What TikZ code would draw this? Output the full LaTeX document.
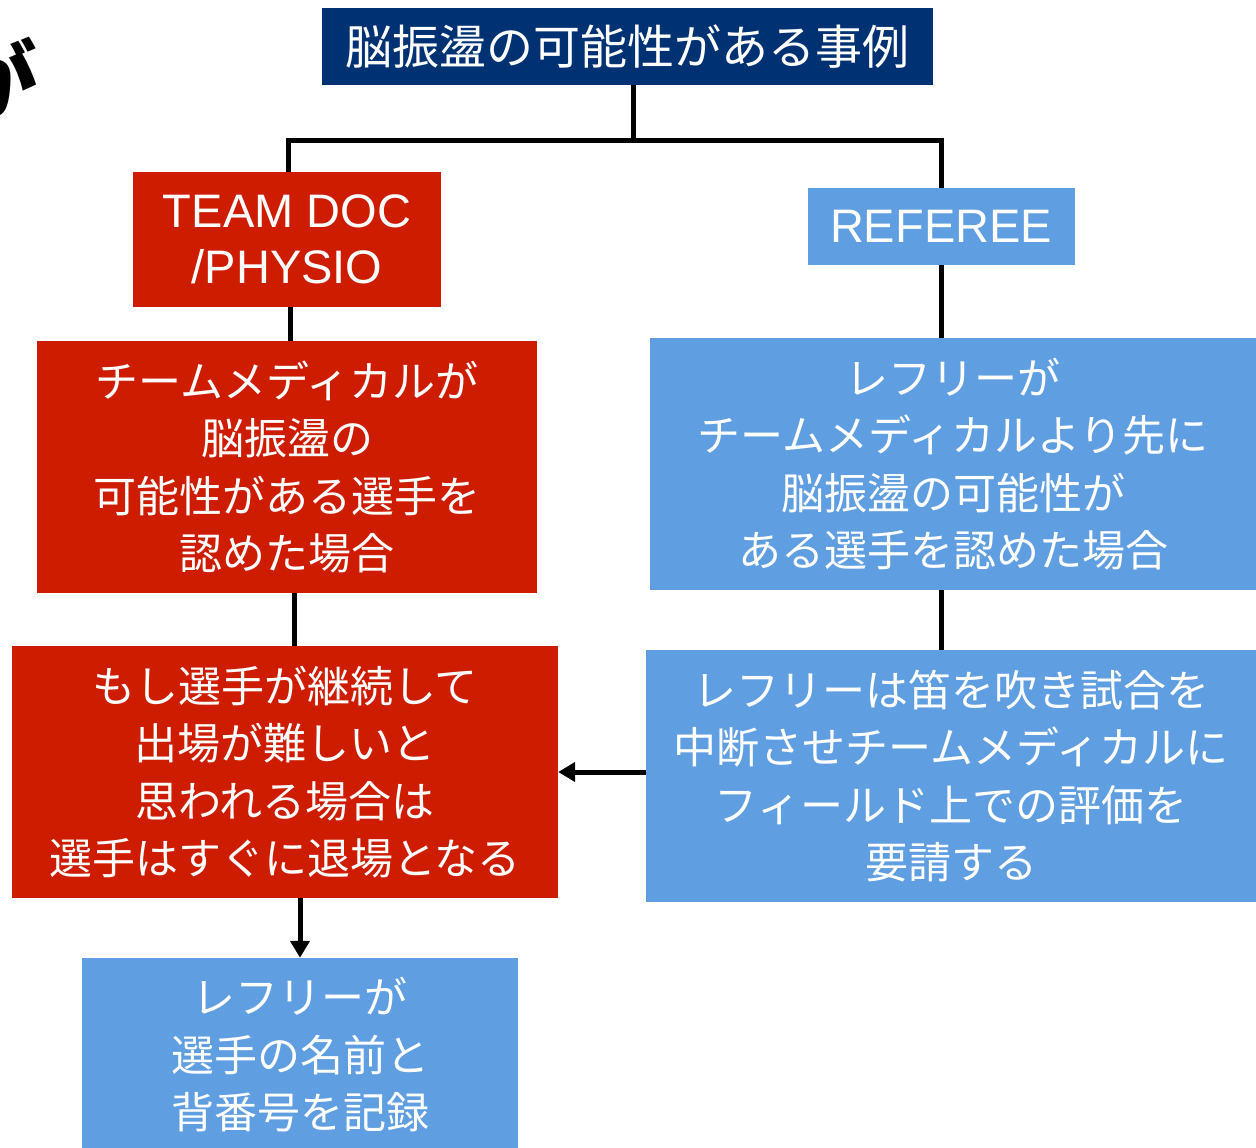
\documentclass[tikz,border=0pt]{standalone}
\usepackage{fontspec}
\setmainfont{Liberation Sans}
\newfontfamily\jp{Noto Sans CJK JP}
\usetikzlibrary{arrows.meta}
\definecolor{navy}{RGB}{0,50,115}
\definecolor{redbox}{RGB}{205,28,0}
\definecolor{bluebox}{RGB}{95,158,224}
\tikzset{
  box/.style={inner sep=0pt, align=center, text=white, font=\jp\fontsize{43}{57.5}\selectfont},
  redb/.style={box, fill=redbox},
  blueb/.style={box, fill=bluebox},
  conn/.style={line width=5pt, black},
  arr/.style={conn, -{Triangle[length=17pt,width=19pt]}},
}
\begin{document}
\begin{tikzpicture}[x=1pt,y=-1pt]
\useasboundingbox[fill=white] (0,0) rectangle (1256,1148);
% partial text at top left
\node[anchor=base east, inner sep=0pt, font=\jp\bfseries\fontsize{86}{86}\selectfont] (ga) at (38,113) {が};
% nodes
\node[box, fill=navy, minimum width=611pt, minimum height=77pt, font=\jp\fontsize{47}{50}\selectfont] (title) at (627.5,46.5) {脳振盪の可能性がある事例};
\node[redb, minimum width=308pt, minimum height=135pt, font=\fontsize{47}{56}\selectfont] (teamdoc) at (287,239.5) {TEAM DOC\\/PHYSIO};
\node[blueb, minimum width=267pt, minimum height=77pt, font=\fontsize{47}{56}\selectfont] (referee) at (941,226.5) {REFEREE};
\node[redb, minimum width=500pt, minimum height=252pt] (red2) at (287,467) {チームメディカルが\\脳振盪の\\可能性がある選手を\\認めた場合};
\node[blueb, minimum width=606pt, minimum height=252pt] (blue2) at (953,464) {レフリーが\\チームメディカルより先に\\脳振盪の可能性が\\ある選手を認めた場合};
\node[redb, minimum width=546pt, minimum height=252pt] (red3) at (285,772) {もし選手が継続して\\出場が難しいと\\思われる場合は\\選手はすぐに退場となる};
\node[blueb, minimum width=610pt, minimum height=252pt] (blue3) at (951,776) {レフリーは笛を吹き試合を\\中断させチームメディカルに\\フィールド上での評価を\\要請する};
\node[blueb, minimum width=436pt, minimum height=194pt] (blue4) at (300,1055) {レフリーが\\選手の名前と\\背番号を記録};
% connectors
\coordinate (j) at (633,140);
\draw[conn] (title.south -| j) -- (j);
\draw[conn] ([xshift=1pt]teamdoc.north) |- (j) -| (referee.north);
\draw[conn] ([xshift=3pt]teamdoc.south) -- ([xshift=3pt]teamdoc.south |- red2.north);
\draw[conn] (referee.south) -- (referee.south |- blue2.north);
\draw[conn] ([xshift=7pt]red2.south) -- ([xshift=7pt]red2.south |- red3.north);
\draw[conn] (referee.south |- blue2.south) -- (referee.south |- blue3.north);
\draw[arr] (blue3.west |- red3.east) -- (red3.east);
\draw[arr] (blue4.north |- red3.south) -- (blue4.north);
\end{tikzpicture}
\end{document}
